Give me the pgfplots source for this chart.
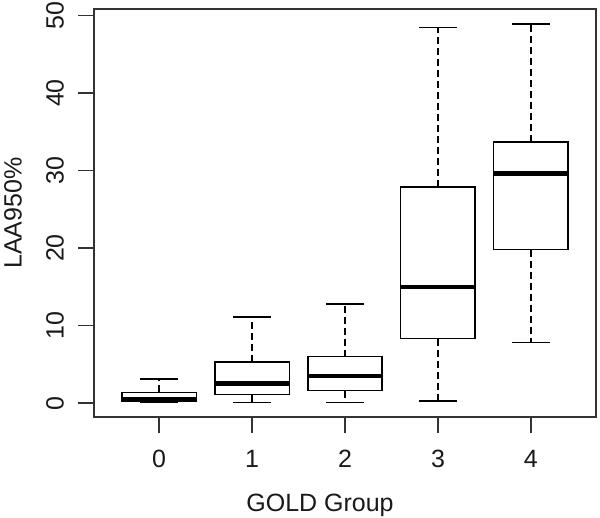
\documentclass[border=0pt]{standalone}
\usepackage{pgfplots}
\pgfplotsset{compat=1.18}
\usepgfplotslibrary{statistics}
\usepackage{fontspec}
\setmainfont{Liberation Sans}
\begin{document}
\begin{tikzpicture}[x=1pt,y=1pt]
\useasboundingbox (-94,-100) rectangle (506,417);
\pgfplotsset{
  /pgfplots/boxplot/draw/lower whisker/.code={%
    \draw[dash pattern=on 7pt off 4pt]
      (boxplot box cs:\pgfplotsboxplotvalue{lower quartile},0.5)
      -- (boxplot box cs:\pgfplotsboxplotvalue{lower whisker},0.5);
    \draw (boxplot whisker cs:\pgfplotsboxplotvalue{lower whisker},0)
      -- (boxplot whisker cs:\pgfplotsboxplotvalue{lower whisker},1);
  },
  /pgfplots/boxplot/draw/upper whisker/.code={%
    \draw[dash pattern=on 7pt off 4pt]
      (boxplot box cs:\pgfplotsboxplotvalue{upper quartile},0.5)
      -- (boxplot box cs:\pgfplotsboxplotvalue{upper whisker},0.5);
    \draw (boxplot whisker cs:\pgfplotsboxplotvalue{upper whisker},0)
      -- (boxplot whisker cs:\pgfplotsboxplotvalue{upper whisker},1);
  },
}
\begin{axis}[
  at={(0,0)}, anchor=south west, scale only axis,
  width=502pt, height=408pt,
  xmin=-0.7, xmax=4.7, ymin=-1.8, ymax=50.85,
  xtick={0,1,2,3,4}, ytick={0,10,20,30,40,50},
  xtick pos=lower, ytick pos=left,
  tick align=outside, major tick length=16pt,
  axis line style={line width=1.4pt, black!80},
  tick style={line width=1.4pt, black!80},
  /pgf/number format/assume math mode=true,
  ticklabel style={font=\fontsize{25}{27}\selectfont, black!90},
  xticklabel style={anchor=center, yshift=-25.6pt},
  yticklabel style={rotate=90, anchor=center, yshift=23pt},
  boxplot/draw direction=y,
  boxplot/box extend=0.8,
  boxplot/whisker extend=0.4,
  clip=false,
]
\addplot+[black, line width=1.4pt, mark=none, solid,
  boxplot/every median/.style={line width=4.5pt},
  boxplot prepared={draw position=0, lower whisker=0.04, lower quartile=0.22,
    median=0.5, upper quartile=1.38, upper whisker=3.1}] coordinates {};
\addplot+[black, line width=1.4pt, mark=none, solid,
  boxplot/every median/.style={line width=4.5pt},
  boxplot prepared={draw position=1, lower whisker=0.04, lower quartile=1.1,
    median=2.5, upper quartile=5.3, upper whisker=11.1}] coordinates {};
\addplot+[black, line width=1.4pt, mark=none, solid,
  boxplot/every median/.style={line width=4.5pt},
  boxplot prepared={draw position=2, lower whisker=0.04, lower quartile=1.6,
    median=3.5, upper quartile=6.0, upper whisker=12.8}] coordinates {};
\addplot+[black, line width=1.4pt, mark=none, solid,
  boxplot/every median/.style={line width=4.5pt},
  boxplot prepared={draw position=3, lower whisker=0.26, lower quartile=8.3,
    median=15.0, upper quartile=27.9, upper whisker=48.5}] coordinates {};
\addplot+[black, line width=1.4pt, mark=none, solid,
  boxplot/every median/.style={line width=4.5pt},
  boxplot prepared={draw position=4, lower whisker=7.8, lower quartile=19.8,
    median=29.6, upper quartile=33.7, upper whisker=48.9}] coordinates {};
\end{axis}
\node[font=\fontsize{25}{27}\selectfont, text=black!90] at (226,-88) {GOLD Group};
\node[rotate=90, font=\fontsize{25}{27}\selectfont, text=black!90] at (-81,204) {LAA950\%};
\end{tikzpicture}
\end{document}
